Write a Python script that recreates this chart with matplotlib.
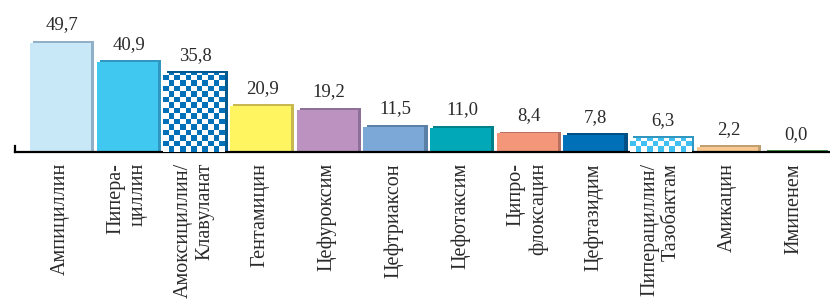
import numpy as np
import matplotlib
matplotlib.use("Agg")
import matplotlib.pyplot as plt
from matplotlib.colors import ListedColormap

# data
labels = ["Ампициллин", "Пипера-\nциллин", "Амоксициллин/\nКлавуланат", "Гентамицин",
          "Цефуроксим", "Цефтриаксон", "Цефотаксим", "Ципро-\nфлоксацин",
          "Цефтазидим", "Пиперациллин/\nТазобактам", "Амикацин", "Имипенем"]
values = [49.7, 40.9, 35.8, 20.9, 19.2, 11.5, 11.0, 8.4, 7.8, 6.3, 2.2, 0.0]
value_text = ["49,7", "40,9", "35,8", "20,9", "19,2", "11,5", "11,0", "8,4", "7,8", "6,3", "2,2", "0,0"]

face = ["#c8e8f8", "#40c8f0", "#0070b8", "#fff560", "#bc92c0", "#7ca8d8",
        "#00a8b8", "#f4967a", "#0070b8", "#40c0f0", "#f8c890", "#50a050"]
shade = ["#90b0c8", "#3098c0", "#005a90", "#c8b850", "#8c7098", "#5a80a8",
         "#008088", "#b87060", "#005088", "#3098c0", "#c0a070", "#4a9a50"]
checker = [False, False, True, False, False, False, False, False, False, True, False, False]

plt.rcParams["font.family"] = ["Liberation Serif", "DejaVu Serif"]

fig = plt.figure(figsize=(8.3, 3.05), dpi=100)
ax = fig.add_axes([15 / 830, 153 / 305, 815 / 830, 152 / 305])

x = np.arange(len(values))
w = 0.915
dx, dy = 0.05, 0.8

# shadow bars behind
ax.bar(x + dx, np.array(values) + dy, width=w, color=shade, zorder=1)
bars = ax.bar(x, values, width=w, color=["white" if c else f for c, f in zip(checker, face)], zorder=2)

# checkerboard fill
for b, c, f in zip(bars, checker, face):
    if not c:
        continue
    x0, h = b.get_x(), b.get_height()
    ncol = 11
    cy = 2.5
    nrow = int(np.ceil(h / cy))
    grid = (np.add.outer(np.arange(nrow), np.arange(ncol)) % 2)
    im = ax.imshow(grid, cmap=ListedColormap(["white", f]), interpolation="nearest",
                   aspect="auto", origin="lower",
                   extent=(x0, x0 + b.get_width(), 0, nrow * cy), zorder=3)
    im.set_clip_path(b)

for xi, v, t in zip(x, values, value_text):
    ax.annotate(t, (xi + 0.03, v), xytext=(0, 9.5), textcoords="offset points",
                ha="center", va="baseline", fontsize=13.5, color="#2a2a2a")

ax.set_xlim(-0.68, 11.54)
ax.set_ylim(0, 69)
ax.set_xticks(x)
ax.set_xticklabels(labels, rotation=90, va="top", ha="center", multialignment="right",
                   fontsize=14.5, color="#2a2a2a")
ax.tick_params(axis="x", length=0, pad=8)
ax.set_yticks([])
for s in ["top", "right"]:
    ax.spines[s].set_visible(False)
ax.spines["bottom"].set_linewidth(1.6)
ax.spines["left"].set_linewidth(1.6)
ax.spines["left"].set_bounds(0, 2.7)

fig.savefig("out.png", dpi=100)
